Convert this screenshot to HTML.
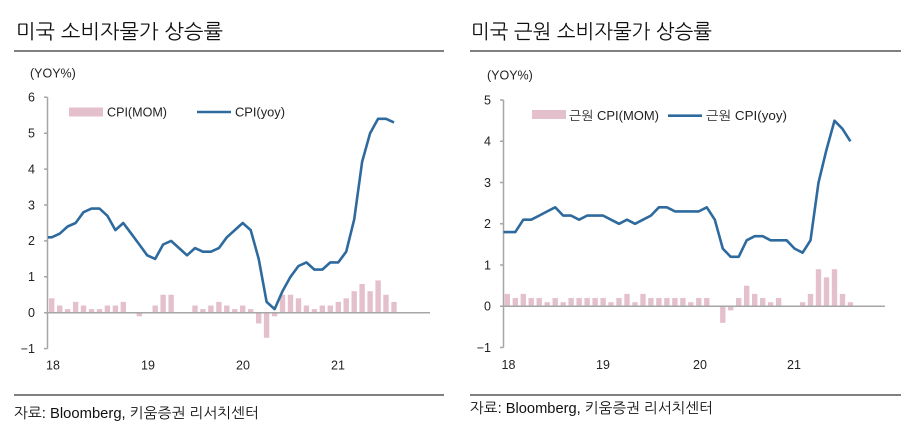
<!DOCTYPE html>
<html><head><meta charset="utf-8"><style>
html,body{margin:0;padding:0;background:#fff;}
svg{display:block;}
text{font-family:"Liberation Sans","NanumGothic","Noto Sans CJK KR",sans-serif;fill:#222;}
.t{font-size:20px;fill:#111;}
.f{font-size:14.5px;fill:#111;}
.k{font-size:12.5px;}
</style></head><body>
<svg width="915" height="431" viewBox="0 0 915 431" xmlns="http://www.w3.org/2000/svg">
<text class="t" x="16" y="38.5" textLength="207" lengthAdjust="spacingAndGlyphs">미국 소비자물가 상승률</text>
<rect x="14" y="50" width="430" height="2" fill="#808080"/>
<text class="k" x="30" y="77.5">(YOY%)</text>
<rect x="69" y="107.5" width="34" height="9" fill="#e4c0cc"/>
<text class="k" x="107" y="116.5" textLength="60" lengthAdjust="spacingAndGlyphs">CPI(MOM)</text>
<line x1="197" y1="112" x2="231" y2="112" stroke="#2e6a9e" stroke-width="2.6"/>
<text class="k" x="235" y="116.5" textLength="50" lengthAdjust="spacingAndGlyphs">CPI(yoy)</text>
<g class="k" text-anchor="end">
<text x="35" y="101.6">6</text>
<text x="35" y="137.5">5</text>
<text x="35" y="173.4">4</text>
<text x="35" y="209.3">3</text>
<text x="35" y="245.2">2</text>
<text x="35" y="281.1">1</text>
<text x="35" y="317">0</text>
<text x="35" y="352.9">−1</text>
</g>
<g class="k" text-anchor="middle">
<text x="53" y="369.3">18</text>
<text x="148" y="369.3">19</text>
<text x="243" y="369.3">20</text>
<text x="338" y="369.3">21</text>
</g>
<g fill="#e4c0cc">
<rect x="49.0" y="298.3" width="5.4" height="14.4"/>
<rect x="57.0" y="305.5" width="5.4" height="7.2"/>
<rect x="64.9" y="309.1" width="5.4" height="3.6"/>
<rect x="72.9" y="301.9" width="5.4" height="10.8"/>
<rect x="80.8" y="305.5" width="5.4" height="7.2"/>
<rect x="88.8" y="309.1" width="5.4" height="3.6"/>
<rect x="96.8" y="309.1" width="5.4" height="3.6"/>
<rect x="104.7" y="305.5" width="5.4" height="7.2"/>
<rect x="112.7" y="305.5" width="5.4" height="7.2"/>
<rect x="120.6" y="301.9" width="5.4" height="10.8"/>
<rect x="136.6" y="312.7" width="5.4" height="3.6"/>
<rect x="152.5" y="305.5" width="5.4" height="7.2"/>
<rect x="160.4" y="294.75" width="5.4" height="17.95"/>
<rect x="168.4" y="294.75" width="5.4" height="17.95"/>
<rect x="192.3" y="305.5" width="5.4" height="7.2"/>
<rect x="200.2" y="309.1" width="5.4" height="3.6"/>
<rect x="208.2" y="305.5" width="5.4" height="7.2"/>
<rect x="216.2" y="301.9" width="5.4" height="10.8"/>
<rect x="224.1" y="305.5" width="5.4" height="7.2"/>
<rect x="232.1" y="309.1" width="5.4" height="3.6"/>
<rect x="240.0" y="305.5" width="5.4" height="7.2"/>
<rect x="248.0" y="309.1" width="5.4" height="3.6"/>
<rect x="256.0" y="312.7" width="5.4" height="10.8"/>
<rect x="263.9" y="312.7" width="5.4" height="25.1"/>
<rect x="271.9" y="312.7" width="5.4" height="3.6"/>
<rect x="279.8" y="294.75" width="5.4" height="17.95"/>
<rect x="287.8" y="294.75" width="5.4" height="17.95"/>
<rect x="295.8" y="298.3" width="5.4" height="14.4"/>
<rect x="303.7" y="305.5" width="5.4" height="7.2"/>
<rect x="311.7" y="309.1" width="5.4" height="3.6"/>
<rect x="319.6" y="305.5" width="5.4" height="7.2"/>
<rect x="327.6" y="305.5" width="5.4" height="7.2"/>
<rect x="335.6" y="301.9" width="5.4" height="10.8"/>
<rect x="343.5" y="298.3" width="5.4" height="14.4"/>
<rect x="351.5" y="291.2" width="5.4" height="21.5"/>
<rect x="359.4" y="284.0" width="5.4" height="28.7"/>
<rect x="367.4" y="291.2" width="5.4" height="21.5"/>
<rect x="375.4" y="280.4" width="5.4" height="32.3"/>
<rect x="383.3" y="294.75" width="5.4" height="17.95"/>
<rect x="391.3" y="301.9" width="5.4" height="10.8"/>
</g>
<g stroke="#a6a6a6" stroke-width="1.5" fill="none">
<line x1="47.5" y1="97.3" x2="47.5" y2="348.6"/>
<line x1="47.5" y1="312.7" x2="430" y2="312.7"/>
<path d="M44 97.3H47.5M44 133.2H47.5M44 169.1H47.5M44 205H47.5M44 240.9H47.5M44 276.8H47.5M44 312.7H47.5M44 348.6H47.5"/>
</g>
<polyline fill="none" stroke="#2e6a9e" stroke-width="2.6" stroke-linejoin="round" points="48,237.3 51.7,237.3 59.7,233.7 67.6,226.5 75.6,223.0 83.5,212.2 91.5,208.6 99.5,208.6 107.4,215.8 115.4,230.1 123.3,223.0 131.3,233.7 139.3,244.5 147.2,255.3 155.2,258.9 163.1,244.5 171.1,240.9 179.1,248.1 187.0,255.3 195.0,248.1 202.9,251.7 210.9,251.7 218.9,248.1 226.8,237.3 234.8,230.1 242.7,223.0 250.7,230.1 258.7,258.9 266.6,301.9 274.6,309.1 282.5,291.2 290.5,276.8 298.5,266.0 306.4,262.4 314.4,269.6 322.3,269.6 330.3,262.4 338.3,262.4 346.2,251.7 354.2,219.4 362.1,161.9 370.1,133.2 378.1,118.8 386.0,118.8 394.0,122.4"/>
<rect x="14" y="394" width="430" height="2" fill="#808080"/>
<text class="f" x="14" y="418" textLength="245" lengthAdjust="spacingAndGlyphs">자료: Bloomberg, 키움증권 리서치센터</text>
<text class="t" x="471" y="38.5" textLength="241" lengthAdjust="spacingAndGlyphs">미국 근원 소비자물가 상승률</text>
<rect x="470" y="50" width="431" height="2" fill="#808080"/>
<text class="k" x="487" y="79.5">(YOY%)</text>
<rect x="532" y="110" width="34" height="9" fill="#e4c0cc"/>
<text class="k" x="569" y="120" textLength="90" lengthAdjust="spacingAndGlyphs">근원 CPI(MOM)</text>
<line x1="668" y1="115.7" x2="702" y2="115.7" stroke="#2e6a9e" stroke-width="2.6"/>
<text class="k" x="706" y="120" textLength="81" lengthAdjust="spacingAndGlyphs">근원 CPI(yoy)</text>
<g class="k" text-anchor="end">
<text x="491" y="104.3">5</text>
<text x="491" y="145.6">4</text>
<text x="491" y="186.8">3</text>
<text x="491" y="228.1">2</text>
<text x="491" y="269.3">1</text>
<text x="491" y="310.6">0</text>
<text x="491" y="351.8">−1</text>
</g>
<g class="k" text-anchor="middle">
<text x="508.5" y="369">18</text>
<text x="603" y="369">19</text>
<text x="700" y="369">20</text>
<text x="794" y="369">21</text>
</g>
<g fill="#e4c0cc">
<rect x="504.6" y="293.9" width="5.4" height="12.4"/>
<rect x="512.6" y="298.05" width="5.4" height="8.25"/>
<rect x="520.6" y="293.9" width="5.4" height="12.4"/>
<rect x="528.5" y="298.05" width="5.4" height="8.25"/>
<rect x="536.5" y="298.05" width="5.4" height="8.25"/>
<rect x="544.5" y="302.2" width="5.4" height="4.1"/>
<rect x="552.5" y="298.05" width="5.4" height="8.25"/>
<rect x="560.5" y="302.2" width="5.4" height="4.1"/>
<rect x="568.4" y="298.05" width="5.4" height="8.25"/>
<rect x="576.4" y="298.05" width="5.4" height="8.25"/>
<rect x="584.4" y="298.05" width="5.4" height="8.25"/>
<rect x="592.4" y="298.05" width="5.4" height="8.25"/>
<rect x="600.4" y="298.05" width="5.4" height="8.25"/>
<rect x="608.3" y="302.2" width="5.4" height="4.1"/>
<rect x="616.3" y="298.05" width="5.4" height="8.25"/>
<rect x="624.3" y="293.9" width="5.4" height="12.4"/>
<rect x="632.3" y="302.2" width="5.4" height="4.1"/>
<rect x="640.3" y="293.9" width="5.4" height="12.4"/>
<rect x="648.2" y="298.05" width="5.4" height="8.25"/>
<rect x="656.2" y="298.05" width="5.4" height="8.25"/>
<rect x="664.2" y="298.05" width="5.4" height="8.25"/>
<rect x="672.2" y="298.05" width="5.4" height="8.25"/>
<rect x="680.2" y="298.05" width="5.4" height="8.25"/>
<rect x="688.1" y="302.2" width="5.4" height="4.1"/>
<rect x="696.1" y="298.05" width="5.4" height="8.25"/>
<rect x="704.1" y="298.05" width="5.4" height="8.25"/>
<rect x="720.1" y="306.3" width="5.4" height="16.5"/>
<rect x="728.0" y="306.3" width="5.4" height="4.1"/>
<rect x="736.0" y="298.05" width="5.4" height="8.25"/>
<rect x="744.0" y="285.7" width="5.4" height="20.6"/>
<rect x="752.0" y="293.9" width="5.4" height="12.4"/>
<rect x="760.0" y="298.05" width="5.4" height="8.25"/>
<rect x="767.9" y="302.2" width="5.4" height="4.1"/>
<rect x="775.9" y="298.05" width="5.4" height="8.25"/>
<rect x="799.9" y="302.2" width="5.4" height="4.1"/>
<rect x="807.8" y="293.9" width="5.4" height="12.4"/>
<rect x="815.8" y="269.2" width="5.4" height="37.1"/>
<rect x="823.8" y="277.4" width="5.4" height="28.9"/>
<rect x="831.8" y="269.2" width="5.4" height="37.1"/>
<rect x="839.8" y="293.9" width="5.4" height="12.4"/>
<rect x="847.7" y="302.2" width="5.4" height="4.1"/>
</g>
<g stroke="#a6a6a6" stroke-width="1.5" fill="none">
<line x1="503.5" y1="100" x2="503.5" y2="347.55"/>
<line x1="503.5" y1="306.3" x2="885" y2="306.3"/>
<path d="M500 100H503.5M500 141.3H503.5M500 182.55H503.5M500 223.8H503.5M500 265.05H503.5M500 306.3H503.5M500 347.55H503.5"/>
</g>
<polyline fill="none" stroke="#2e6a9e" stroke-width="2.6" stroke-linejoin="round" points="503.5,232.1 507.3,232.1 515.3,232.1 523.3,219.7 531.2,219.7 539.2,215.6 547.2,211.4 555.2,207.3 563.2,215.6 571.1,215.6 579.1,219.7 587.1,215.6 595.1,215.6 603.1,215.6 611.0,219.7 619.0,223.8 627.0,219.7 635.0,223.8 643.0,219.7 650.9,215.6 658.9,207.3 666.9,207.3 674.9,211.4 682.9,211.4 690.8,211.4 698.8,211.4 706.8,207.3 714.8,219.7 722.8,248.6 730.7,256.8 738.7,256.8 746.7,240.3 754.7,236.2 762.7,236.2 770.6,240.3 778.6,240.3 786.6,240.3 794.6,248.6 802.6,252.7 810.5,240.3 818.5,182.6 826.5,149.6 834.5,120.7 842.5,128.9 850.4,141.3"/>
<rect x="470" y="394" width="431" height="2" fill="#808080"/>
<text class="f" x="470" y="413" textLength="243" lengthAdjust="spacingAndGlyphs">자료: Bloomberg, 키움증권 리서치센터</text>
</svg>
</body></html>
